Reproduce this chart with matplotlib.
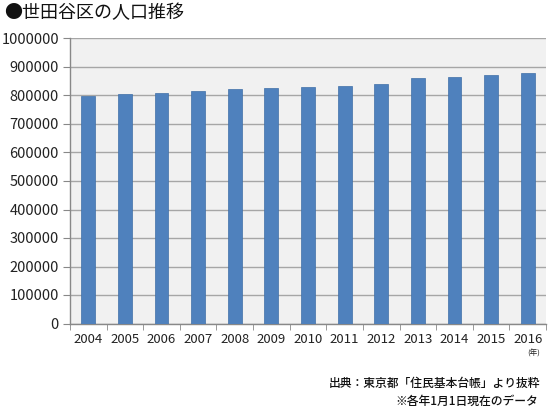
import matplotlib.pyplot as plt
import numpy as np

plt.rcParams['font.family'] = ['Noto Sans CJK JP', 'DejaVu Sans']

years = ['2004', '2005', '2006', '2007', '2008', '2009', '2010',
         '2011', '2012', '2013', '2014', '2015', '2016']
population = [798000, 805000, 810500, 817500, 824500, 827000, 830500,
              834000, 840000, 860000, 866000, 872000, 880000]

fig = plt.figure(figsize=(5.5, 4.09), dpi=100)
fig.patch.set_facecolor('white')
ax = fig.add_axes([70 / 550, 1 - 323.5 / 409, 476 / 550, (323.5 - 38.5) / 409])
ax.set_facecolor('#f1f1f1')

x = np.arange(len(years))
ax.bar(x, population, width=0.38, color='#4f81bd', edgecolor='#3f6fa8',
       linewidth=0.5, zorder=3)

ax.set_xlim(-0.5, len(years) - 0.5)
ax.set_ylim(0, 1000000)
ax.set_yticks(np.arange(0, 1000001, 100000))
ax.set_yticklabels([str(v) for v in range(0, 1000001, 100000)],
                   fontsize=10.5, color='#222222')
ax.yaxis.grid(True, color='#a6a6a6', linewidth=1.0, zorder=1)

ax.set_xticks(x)
ax.set_xticklabels(years, fontsize=9.5, color='#222222')
ax.set_xticks(np.arange(-0.5, len(years), 1), minor=True)
ax.tick_params(axis='x', which='major', length=0, pad=7)
ax.tick_params(axis='x', which='minor', length=4, color='#888888')
ax.tick_params(axis='y', length=5, color='#888888', pad=3)

for side in ['top', 'right']:
    ax.spines[side].set_visible(False)
for side in ['left', 'bottom']:
    ax.spines[side].set_color('#888888')
    ax.spines[side].set_linewidth(1.0)

fig.text(4 / 550, 1 - 13 / 409, '●世田谷区の人口推移', fontsize=13,
         ha='left', va='center', color='#111111')
fig.text(540 / 550, 1 - 354 / 409, '(年)', fontsize=5.5,
         ha='right', va='center', color='#222222')
fig.text(540 / 550, 1 - 383 / 409, '出典：東京都「住民基本台帳」より抜粋',
         fontsize=8.5, fontweight='medium', ha='right', va='center',
         color='#111111')
fig.text(538 / 550, 1 - 401 / 409, '※各年1月1日現在のデータ',
         fontsize=8.5, fontweight='medium', ha='right', va='center',
         color='#111111')

fig.savefig('out.png', dpi=100)
